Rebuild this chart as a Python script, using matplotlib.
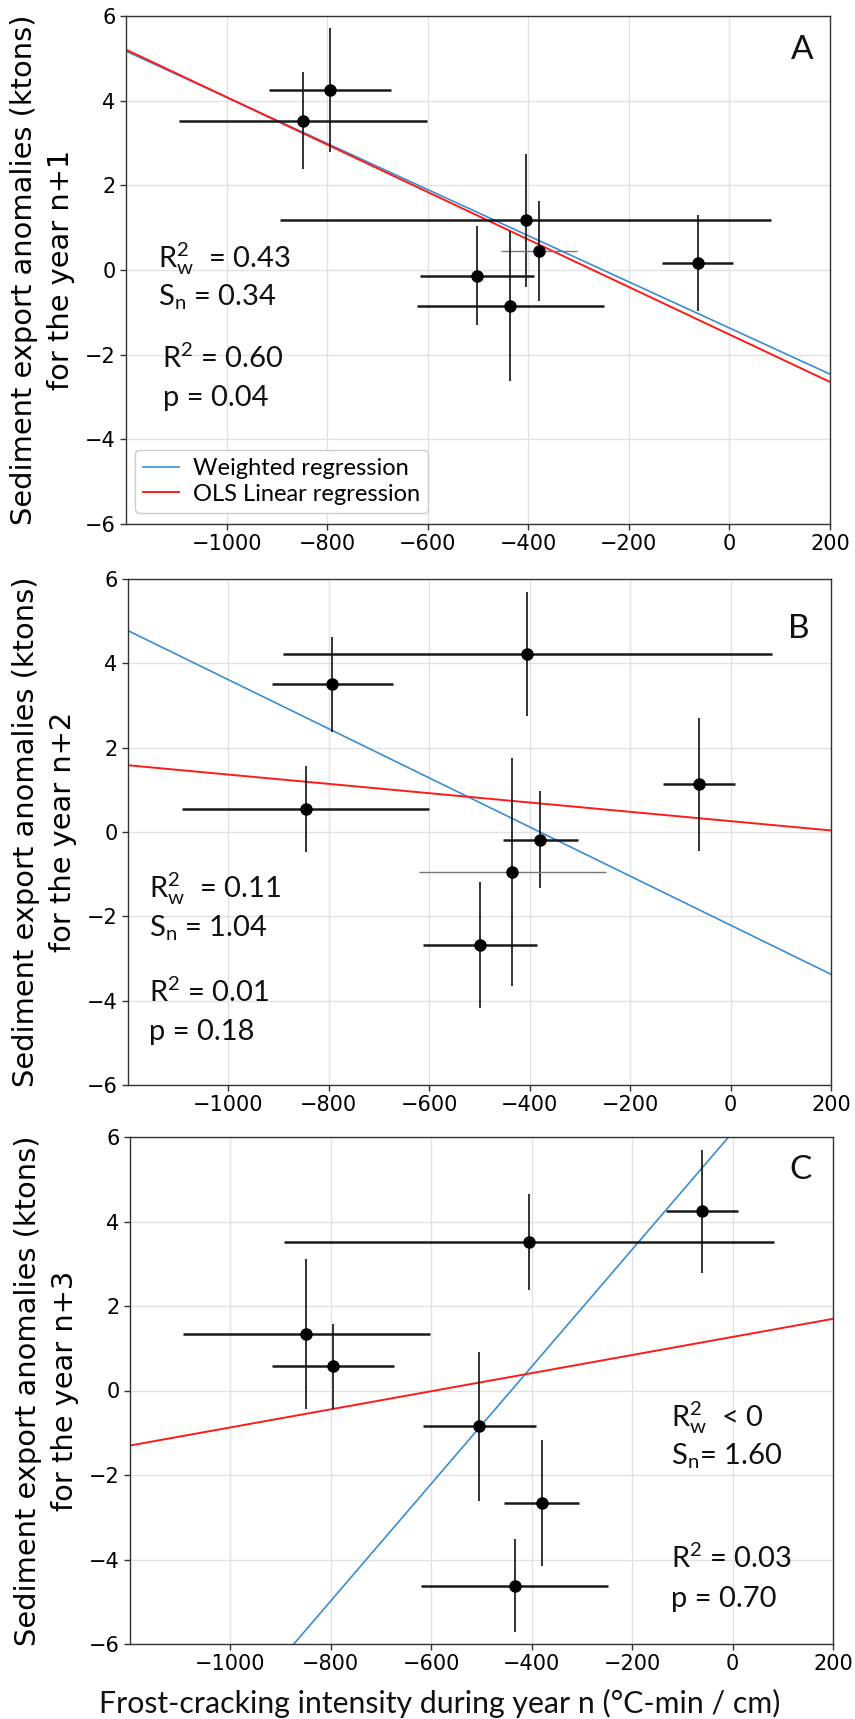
import numpy as np
import matplotlib
matplotlib.use("Agg")
import matplotlib.pyplot as plt

# ---------------- data ----------------
A_x = [-848, -795, -405, -379, -502, -436, -63]
A_xerr = [246, 121, 488, 75, 113, 186, 71]
A_y = [3.53, 4.25, 1.17, 0.45, -0.14, -0.86, 0.16]
A_yerr = [1.14, 1.46, 1.56, 1.18, 1.17, 1.77, 1.14]

B_x = [-846, -793, -405, -379, -499, -435, -63]
B_xerr = [246, 121, 487, 75, 113, 186, 71]
B_y = [0.54, 3.50, 4.22, -0.18, -2.68, -0.95, 1.13]
B_yerr = [1.02, 1.12, 1.47, 1.15, 1.50, 2.71, 1.57]

C_x = [-849, -796, -406, -61, -504, -380, -434]
C_xerr = [246, 121, 488, 71, 113, 75, 186]
C_y = [1.34, 0.57, 3.51, 4.24, -0.85, -2.66, -4.62]
C_yerr = [1.77, 1.00, 1.14, 1.46, 1.76, 1.50, 1.10]

# weighted regression (slope, intercept)
wls_A = (-0.00545, -1.37)
wls_B = (-0.005821, -2.21)
wls_C = (0.01386, 6.11)

stats_A = [r"$\mathregular{R^2_w}$  = 0.43", r"$\mathregular{S_n}$ = 0.34",
           r"$\mathregular{R^2}$ = 0.60", "p = 0.04"]
stats_B = [r"$\mathregular{R^2_w}$  = 0.11", r"$\mathregular{S_n}$ = 1.04",
           r"$\mathregular{R^2}$ = 0.01", "p = 0.18"]
stats_C = [r"$\mathregular{R^2_w}$  < 0", r"$\mathregular{S_n}$= 1.60",
           r"$\mathregular{R^2}$ = 0.03", "p = 0.70"]

ylabels = ["Sediment export anomalies (ktons)\nfor the year n+1",
           "Sediment export anomalies (ktons)\nfor the year n+2",
           "Sediment export anomalies (ktons)\nfor the year n+3"]
panel_letters = ["A", "B", "C"]
xticks = [-1000, -800, -600, -400, -200, 0, 200]
yticks = [-6, -4, -2, 0, 2, 4, 6]
xlabel = "Frost-cracking intensity during year n (°C-min / cm)"

# ---------------- layout ----------------
W, H = 855, 1719
fig = plt.figure(figsize=(W / 100, H / 100), dpi=100)

boxes = [(126, 830, 16, 524), (128, 831, 579, 1085), (130, 833, 1137, 1644)]
# text positions (data coords: x, baselines)
stat_pos = [
    [(-1136, 0.07), (-1136, -0.85), (-1128, -2.32), (-1126, -3.21)],
    [(-1158, -1.56), (-1158, -2.47), (-1158, -4.03), (-1158, -4.93)],
    [(-123, -0.86), (-123, -1.76), (-123, -4.20), (-123, -5.12)],
]
letter_pos = [(802, 50), (799, 629), (800, 1170)]
thin_xerr = [[3], [5], []]

TXT_FONT = ["Lato", "DejaVu Sans"]
BLUE = "#3a8dd1"
RED = "#ff1a1a"

datasets = [(A_x, A_xerr, A_y, A_yerr, wls_A, stats_A),
            (B_x, B_xerr, B_y, B_yerr, wls_B, stats_B),
            (C_x, C_xerr, C_y, C_yerr, wls_C, stats_C)]

xline = np.linspace(-1200, 200, 200)

for i, (box, ds) in enumerate(zip(boxes, datasets)):
    l, r, t, b = box
    ax = fig.add_axes([l / W, 1 - b / H, (r - l) / W, (b - t) / H])
    xs, xe, ys, ye, wls, stats = ds
    ax.set_xlim(-1200, 200)
    ax.set_ylim(-6, 6)
    ax.set_xticks(xticks)
    ax.set_yticks(yticks)
    ax.grid(True, color="#e2e2e2", linewidth=1.0)
    ax.set_axisbelow(True)
    for s in ax.spines.values():
        s.set_color("#333333")
        s.set_linewidth(1.0)
    ax.tick_params(labelsize=15, length=4, width=1, color="#333333")

    # regression lines
    ax.plot(xline, wls[0] * xline + wls[1], color=BLUE, lw=1.2,
            label="Weighted regression", zorder=2)
    m, c = np.polyfit(np.array(xs, float), np.array(ys, float), 1)
    ax.plot(xline, m * xline + c, color=RED, lw=1.4,
            label="OLS Linear regression", zorder=2)

    # error bars
    for k in range(len(xs)):
        thin = k in thin_xerr[i]
        ax.errorbar([xs[k]], [ys[k]], xerr=[xe[k]], fmt="none",
                    ecolor="#777777" if thin else "#1a1a1a",
                    elinewidth=1.0 if thin else 1.8, capsize=0, zorder=3)
        ax.errorbar([xs[k]], [ys[k]], yerr=[ye[k]], fmt="none",
                    ecolor="#111111", elinewidth=1.2, capsize=0, zorder=3)
    ax.plot(xs, ys, "o", color="black", ms=8, zorder=4)

    for txt, (px, py) in zip(stats, stat_pos[i]):
        ax.text(px, py, txt, family=TXT_FONT, fontsize=21, ha="left",
                va="baseline", color="#111111")

    ax.set_ylabel(ylabels[i], fontsize=20.8, family="DejaVu Sans",
                  linespacing=1.42)
    ax.yaxis.set_label_coords(-0.072, 0.5)

    lx, ly = letter_pos[i]
    fig.text(lx / W, 1 - ly / H, panel_letters[i], family=TXT_FONT,
             fontsize=24, ha="center", va="center", color="#111111")

    if i == 0:
        leg = ax.legend(loc="lower left", bbox_to_anchor=(0.0128, 0.0217),
                        borderaxespad=0, prop={"family": TXT_FONT, "size": 17},
                        handlelength=1.5, handletextpad=0.6, labelspacing=0.2,
                        borderpad=0.35, frameon=True,
                        fancybox=True, edgecolor="#cccccc", framealpha=1)

fig.text(440 / W, 1 - 1703 / H, xlabel, family=TXT_FONT, fontsize=21.8,
         ha="center", va="center", color="#111111")

fig.savefig("out.png", dpi=100)
